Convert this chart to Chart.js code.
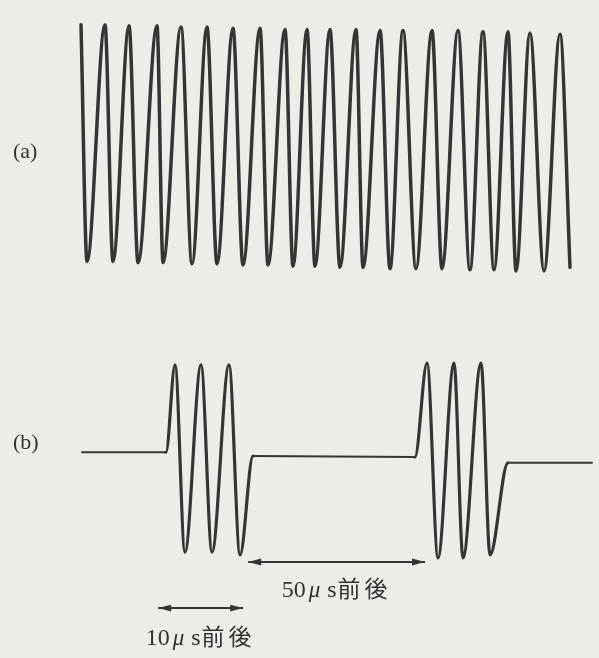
<!DOCTYPE html>
<html>
<head>
<meta charset="utf-8">
<script src="https://cdn.jsdelivr.net/npm/chart.js@4.4.1/dist/chart.umd.min.js"></script>
<style>
  html, body { margin: 0; padding: 0; background: #edece7; }
  canvas { display: block; }
</style>
</head>
<body>
<canvas id="wave" width="599" height="658"></canvas>
<script>
// (a) continuous carrier: time (μs) of each successive crest / trough and its level
const carrierTimes = [9.53, 10.24, 12.35, 13.29, 15.18, 16.24, 18.47, 19.18, 21.29, 22.59,
  24.35, 25.53, 27.41, 28.59, 30.59, 31.53, 33.53, 34.47, 36.12, 37.06,
  38.82, 40.00, 41.88, 42.71, 44.71, 45.88, 47.41, 48.94, 50.82, 52.00,
  53.88, 55.29, 56.82, 58.12, 59.76, 60.71, 62.35, 64.00, 65.88, 67.06];
const carrierLevels = [1.02, -0.97, 1.02, -0.97, 1.01, -0.98, 1.01, -0.98, 1.00, -0.99,
  1.00, -0.99, 0.99, -1.00, 0.99, -1.00, 0.98, -1.01, 0.98, -1.01,
  0.98, -1.02, 0.98, -1.02, 0.97, -1.03, 0.97, -1.03, 0.97, -1.03,
  0.97, -1.04, 0.96, -1.04, 0.96, -1.05, 0.95, -1.05, 0.94, -1.02];

// (b) burst signal: idle level, three cycles, idle, three cycles, idle
const burstTimes = [9.65, 19.53, 20.59, 21.76, 23.65, 24.94, 26.94, 28.24, 29.76,
  48.82, 50.24, 51.53, 53.41, 54.47, 56.59, 57.65, 59.76, 69.65];
const burstLevels = [0.06, 0.06, 0.97, -0.98, 0.97, -0.98, 0.97, -1.01, 0.02,
  0.01, 0.99, -1.04, 0.99, -1.04, 0.99, -1.01, -0.05, -0.05];

// duration markers drawn under trace (b)
const spanStarts = [18.6, 29.2];
const spanEnds = [28.6, 50.0];
const spanValues = ['10', '50'];
const spanUnit = 'μ';
const spanSuffix = 's';
const spanWord = '前後';

// trace captions
const traceNames = ['(a)', '(b)'];

const ink = '#353535';

const toPoints = (xs, ys) => xs.map((x, i) => ({ x: x, y: ys[i] }));

// captions, arrows and duration labels
const annotate = {
  id: 'annotate',
  afterDatasetsDraw(chart, args, opts) {
    const ctx = chart.ctx;
    const xs = chart.scales.x;
    const yA = chart.scales.yA;
    const yB = chart.scales.yB;
    ctx.save();
    ctx.fillStyle = '#333333';
    ctx.strokeStyle = ink;

    // (a) / (b)
    ctx.font = '22px "Liberation Serif", "DejaVu Serif", serif';
    ctx.textBaseline = 'middle';
    ctx.textAlign = 'left';
    ctx.fillText(traceNames[0], opts.captionX, yA.getPixelForValue(0) + opts.captionOffA);
    ctx.fillText(traceNames[1], opts.captionX, yB.getPixelForValue(0) + opts.captionOffB);

    // double-headed span arrows
    spanStarts.forEach((s, i) => {
      const x0 = xs.getPixelForValue(s);
      const x1 = xs.getPixelForValue(spanEnds[i]);
      const y = yB.getPixelForValue(opts.levels[i]);
      ctx.lineWidth = 2;
      ctx.beginPath();
      ctx.moveTo(x0, y);
      ctx.lineTo(x1, y);
      ctx.stroke();
      const head = (xt, dir) => {
        ctx.beginPath();
        ctx.moveTo(xt, y);
        ctx.lineTo(xt + dir * 13, y - 3.4);
        ctx.lineTo(xt + dir * 13, y + 3.4);
        ctx.closePath();
        ctx.fill();
      };
      head(x0, 1);
      head(x1, -1);

      // label: value, italic μ, s, 前後
      const serif = '"Liberation Serif", "DejaVu Serif", serif';
      const runs = [
        { t: spanValues[i], f: '24px ' + serif, gap: 3 },
        { t: spanUnit, f: 'italic 23px ' + serif, gap: 7 },
        { t: spanSuffix, f: '24px ' + serif, gap: 1 },
        { t: spanWord, f: '23px "Noto Sans CJK JP", sans-serif', gap: 0, sp: 4 }
      ];
      let total = 0;
      runs.forEach(r => {
        ctx.font = r.f;
        ctx.letterSpacing = (r.sp || 0) + 'px';
        r.w = ctx.measureText(r.t).width;
        total += r.w + r.gap;
      });
      let x = (x0 + x1) / 2 - total / 2;
      const ty = y + opts.labelDrop[i];
      ctx.textBaseline = 'alphabetic';
      runs.forEach(r => {
        ctx.font = r.f;
        ctx.letterSpacing = (r.sp || 0) + 'px';
        ctx.fillText(r.t, x, ty);
        x += r.w + r.gap;
      });
      ctx.letterSpacing = '0px';
    });
    ctx.restore();
  }
};

new Chart(document.getElementById('wave'), {
  type: 'line',
  data: {
    datasets: [
      {
        label: 'carrier',
        data: toPoints(carrierTimes, carrierLevels),
        yAxisID: 'yA',
        borderColor: ink,
        borderWidth: 3.5,
        borderJoinStyle: 'round',
        borderCapStyle: 'round',
        pointRadius: 0,
        cubicInterpolationMode: 'monotone',
        fill: false
      },
      {
        label: 'burst',
        data: toPoints(burstTimes, burstLevels),
        yAxisID: 'yB',
        borderColor: ink,
        borderWidth: 3.2,
        borderJoinStyle: 'round',
        borderCapStyle: 'round',
        pointRadius: 0,
        cubicInterpolationMode: 'monotone',
        fill: false,
        segment: {
          borderWidth: c => Math.abs(c.p0.parsed.y - c.p1.parsed.y) < 0.2 ? 2 : 3.2
        }
      }
    ]
  },
  options: {
    responsive: false,
    animation: false,
    events: [],
    layout: { padding: 0 },
    scales: {
      x: { type: 'linear', min: 0, max: 70.47, display: false },
      yA: { type: 'linear', min: -4.303, max: 1.227, display: false },
      yB: { type: 'linear', min: -2.083, max: 4.771, display: false }
    },
    plugins: {
      legend: { display: false },
      tooltip: { enabled: false },
      annotate: {
        captionX: 13,
        captionOffA: 6,
        captionOffB: -15,
        levels: [-1.5625, -1.083],
        labelDrop: [37, 35]
      }
    }
  },
  plugins: [annotate]
});
</script>
</body>
</html>
